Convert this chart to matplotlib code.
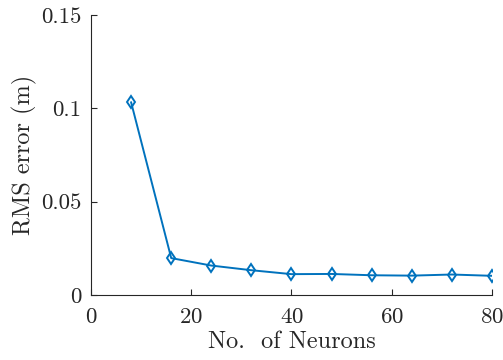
import matplotlib
matplotlib.use("Agg")
import matplotlib.pyplot as plt

plt.rcParams['font.family'] = ['cmr10', 'DejaVu Serif']
plt.rcParams['mathtext.fontset'] = 'cm'
plt.rcParams['axes.formatter.use_mathtext'] = True

neurons = [8, 16, 24, 32, 40, 48, 56, 64, 72, 80]
rms_error = [0.1032, 0.0197, 0.0157, 0.0132, 0.0111, 0.0112, 0.0105, 0.0103, 0.0109, 0.0102]

xticks = [0, 20, 40, 60, 80]
yticks = [0, 0.05, 0.1, 0.15]
ytick_labels = ['0', '0.05', '0.1', '0.15']

axis_color = '#262626'

fig = plt.figure(figsize=(5.03, 3.6), dpi=100)
ax = fig.add_axes([0.181, 0.181, 0.797, 0.777])

ax.plot(neurons, rms_error, color='#0072BD', linewidth=1.4,
        marker='d', markersize=6, markerfacecolor='none',
        markeredgewidth=1.4)

ax.set_xlim(0, 80)
ax.set_ylim(0, 0.15)
ax.set_xticks(xticks)
ax.set_yticks(yticks)
ax.set_yticklabels(ytick_labels)

for side in ['top', 'right']:
    ax.spines[side].set_visible(False)
for side in ['left', 'bottom']:
    ax.spines[side].set_color(axis_color)
    ax.spines[side].set_linewidth(0.8)

ax.tick_params(direction='in', length=4, width=0.8, color=axis_color,
               labelcolor=axis_color, labelsize=16.5)
ax.tick_params(axis='x', pad=9)
ax.tick_params(axis='y', pad=7)

ax.set_xlabel('No.  of Neurons', fontsize=17.5, color=axis_color, labelpad=3)
ax.set_ylabel('RMS error (m)', fontsize=17.5, color=axis_color, labelpad=3)

fig.savefig('out.png', dpi=100)
